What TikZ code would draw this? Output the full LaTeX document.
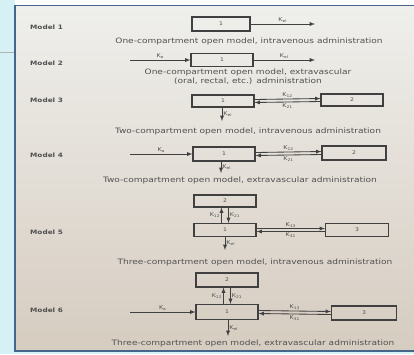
\documentclass[tikz,border=0pt]{standalone}
\usepackage{fontspec}
\setmainfont{DejaVu Sans}
\newfontfamily\capfont{DejaVu Sans}[FakeStretch=1.22]
\definecolor{pagetop}{HTML}{EFEFEC}
\definecolor{pagebot}{HTML}{D6CCC0}
\definecolor{screen}{HTML}{D6F1F6}
\definecolor{frameblue}{HTML}{45658A}
\definecolor{inkgray}{HTML}{404040}
\definecolor{textgray}{HTML}{505050}

\begin{document}
\begin{tikzpicture}[x=1pt, y=-1pt,
    comp/.style = {rectangle, draw=inkgray, line width=1.1pt, minimum width=62pt, minimum height=13pt, inner sep=0pt, font=\capfont\fontsize{5}{6}\selectfont, text=textgray},
    caption/.style = {font=\capfont\fontsize{7.4}{8}\selectfont, text=textgray, inner sep=0pt},
    modelname/.style = {anchor=west, font=\capfont\bfseries\fontsize{6}{7}\selectfont, text=textgray, inner sep=0pt},
    rate/.style = {font=\capfont\fontsize{5.2}{6}\selectfont, text=textgray, inner sep=1pt},
    line/.style = {draw=inkgray, -latex, line width=0.85pt}
]
    \useasboundingbox (0,0) rectangle (414,354);
    % Page background
    \fill [screen] (0,0) rectangle (414,354);
    \fill [white] (15,0) rectangle (414,5);
    \shade [top color=pagetop, bottom color=pagebot] (16,6) rectangle (414,351);
    \draw [frameblue, line width=1.5pt] (15,352) -- (15,5.5) -- (414,5.5);
    \draw [frameblue, line width=1.5pt] (15,351) -- (414,351);
    \draw [gray!60, line width=0.5pt] (0,52) -- (14,52);

    % Model 1
    \node [modelname] (name1) at (30,27) {Model 1};
    \node [comp, minimum width=58pt, minimum height=14pt] (m1c1) at (221,24) {1};
    \coordinate (m1out) at (315,24);
    \node [caption] (cap1) at (249,41) {One-compartment open model, intravenous administration};

    % Model 2
    \node [modelname] (name2) at (30,63) {Model 2};
    \coordinate (m2in) at (130,60);
    \node [comp, minimum height=13pt] (m2c1) at (222,60) {1};
    \coordinate (m2out) at (315,60);
    \node [caption] (cap2a) at (248,72) {One-compartment open model, extravascular};
    \node [caption] (cap2b) at (248,81) {(oral, rectal, etc.) administration};

    % Model 3
    \node [modelname] (name3) at (30,100) {Model 3};
    \node [comp, minimum height=12pt] (m3c1) at (223,101) {1};
    \node [comp, minimum height=12pt] (m3c2) at (352,100) {2};
    \coordinate (m3out) at (222,121);
    \node [caption] (cap3) at (248,131) {Two-compartment open model, intravenous administration};

    % Model 4
    \node [modelname] (name4) at (30,155) {Model 4};
    \coordinate (m4in) at (130,154);
    \node [comp, minimum height=14pt] (m4c1) at (224,154) {1};
    \node [comp, minimum width=64pt, minimum height=14pt] (m4c2) at (354,153) {2};
    \coordinate (m4out) at (221,173);
    \node [caption] (cap4) at (240,180) {Two-compartment open model, extravascular administration};

    % Model 5
    \node [modelname] (name5) at (30,232) {Model 5};
    \node [comp, minimum height=12pt] (m5c2) at (225,201) {2};
    \node [comp] (m5c1) at (225,230) {1};
    \node [comp, minimum width=63pt] (m5c3) at (357,230) {3};
    \coordinate (m5out) at (225,250);
    \node [caption] (cap5) at (255,262) {Three-compartment open model, intravenous administration};

    % Model 6
    \node [modelname] (name6) at (30,310) {Model 6};
    \node [comp, minimum height=14pt] (m6c2) at (227,280) {2};
    \coordinate (m6in) at (130,312);
    \node [comp, minimum height=15pt] (m6c1) at (227,312) {1};
    \node [comp, minimum width=65pt, minimum height=14pt] (m6c3) at (364,313) {3};
    \coordinate (m6out) at (228,336);
    \node [caption] (cap6) at (253,343) {Three-compartment open model, extravascular administration};

    % Edges
    \path [line] (m1c1) -- node [rate, above] {K\textsubscript{el}} (m1out);

    \path [line] (m2in) -- node [rate, above] {K\textsubscript{a}} (m2c1);
    \path [line] (m2c1) -- node [rate, above] {K\textsubscript{el}} (m2out);

    \path [line] ([yshift=1.5pt]m3c1.east) -- node [rate, above] {K\textsubscript{12}} ([yshift=1.5pt]m3c2.west);
    \path [line] ([yshift=-1.5pt]m3c2.west) -- node [rate, below] {K\textsubscript{21}} ([yshift=-1.5pt]m3c1.east);
    \path [line] (m3c1.south -| m3out) -- node [rate, right] {K\textsubscript{el}} (m3out);

    \path [line] (m4in) -- node [rate, above] {K\textsubscript{a}} (m4c1);
    \path [line] ([yshift=1.5pt]m4c1.east) -- node [rate, above] {K\textsubscript{12}} ([yshift=1.5pt]m4c2.west);
    \path [line] ([yshift=-1.5pt]m4c2.west) -- node [rate, below] {K\textsubscript{21}} ([yshift=-1.5pt]m4c1.east);
    \path [line] (m4c1.south -| m4out) -- node [rate, right] {K\textsubscript{el}} (m4out);

    \path [line] ([xshift=-3.5pt]m5c1.north) -- node [rate, left] {K\textsubscript{12}} ([xshift=-3.5pt]m5c2.south);
    \path [line] ([xshift=3.5pt]m5c2.south) -- node [rate, right] {K\textsubscript{21}} ([xshift=3.5pt]m5c1.north);
    \path [line] ([yshift=1.5pt]m5c1.east) -- node [rate, above] {K\textsubscript{13}} ([yshift=1.5pt]m5c3.west);
    \path [line] ([yshift=-1.5pt]m5c3.west) -- node [rate, below] {K\textsubscript{31}} ([yshift=-1.5pt]m5c1.east);
    \path [line] (m5c1.south -| m5out) -- node [rate, right] {K\textsubscript{el}} (m5out);

    \path [line] (m6in) -- node [rate, above] {K\textsubscript{a}} (m6in -| m6c1.west);
    \path [line] ([xshift=-3.5pt]m6c1.north) -- node [rate, left] {K\textsubscript{12}} ([xshift=-3.5pt]m6c2.south);
    \path [line] ([xshift=3.5pt]m6c2.south) -- node [rate, right] {K\textsubscript{21}} ([xshift=3.5pt]m6c1.north);
    \path [line] ([yshift=1.5pt]m6c1.east) -- node [rate, above] {K\textsubscript{13}} ([yshift=1.5pt]m6c3.west);
    \path [line] ([yshift=-1.5pt]m6c3.west) -- node [rate, below] {K\textsubscript{31}} ([yshift=-1.5pt]m6c1.east);
    \path [line] (m6c1.south -| m6out) -- node [rate, right] {K\textsubscript{el}} (m6out);

\end{tikzpicture}
\end{document}
